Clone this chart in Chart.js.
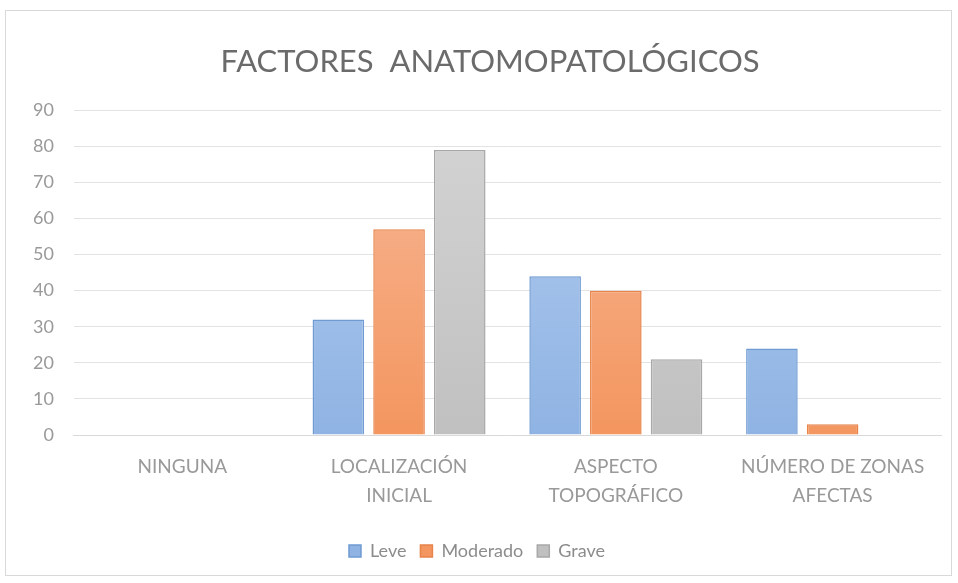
<head>
    <meta charset="utf-8">
    <title>Factores anatomopatológicos</title>
    <style>
        body { margin: 0; background: #fff; }
        #box {
            position: absolute; left: 5px; top: 10px; width: 945px; height: 564px;
            border: 1px solid #d9d9d9; background: #fff;
        }
    </style>
</head>

<body>

    <div id="box">
        <canvas id="myChart"></canvas>
    </div>

    <script src="https://cdn.jsdelivr.net/npm/chart.js"></script>

    <script>
        const categories = [
            ["NINGUNA"],
            ["LOCALIZACIÓN", "INICIAL"],
            ["ASPECTO", "TOPOGRÁFICO"],
            ["NÚMERO DE ZONAS", "AFECTAS"]
        ];
        const leve = [0, 32, 44, 24];
        const moderado = [0, 57, 40, 3];
        const grave = [0, 79, 21, 0];
        const yTicks = [0, 10, 20, 30, 40, 50, 60, 70, 80, 90];

        const font = "Lato, 'Open Sans', sans-serif";

        function grad(top, bottom) {
            return (c) => {
                const area = c.chart.chartArea;
                if (!area) return bottom;
                const g = c.chart.ctx.createLinearGradient(0, area.top, 0, area.bottom);
                g.addColorStop(0, top);
                g.addColorStop(1, bottom);
                return g;
            };
        }

        // the title in the original sits a bit right of the canvas centre
        const titleShift = {
            id: "titleShift",
            afterLayout(chart) {
                if (chart.titleBlock) chart.titleBlock.left += 26;
            }
        };

        const ctx = document.getElementById('myChart');
        ctx.width = 945;
        ctx.height = 564;

        new Chart(ctx, {
            type: "bar",
            data: {
                labels: categories,
                datasets: [
                    {
                        label: "Leve",
                        data: leve,
                        backgroundColor: grad("#b3cef0", "#8fb3e3"),
                        borderColor: "#6f9bd2",
                        borderWidth: 1.5
                    },
                    {
                        label: "Moderado",
                        data: moderado,
                        backgroundColor: grad("#f8b898", "#f3965f"),
                        borderColor: "#e8834a",
                        borderWidth: 1.5
                    },
                    {
                        label: "Grave",
                        data: grave,
                        backgroundColor: grad("#d4d4d4", "#c0c0c0"),
                        borderColor: "#a8a8a8",
                        borderWidth: 1.5
                    }
                ]
            },
            plugins: [titleShift],
            options: {
                responsive: false,
                animation: false,
                categoryPercentage: 0.84,
                barPercentage: 0.85,
                layout: { padding: { top: 32, left: 7, right: 10, bottom: 5 } },
                scales: {
                    x: {
                        grid: { display: false, drawTicks: false },
                        border: { color: "#d9d9d9" },
                        ticks: {
                            color: "#999999",
                            font: { family: font, size: 19, lineHeight: 1.5 },
                            padding: 18,
                            maxRotation: 0
                        }
                    },
                    y: {
                        min: 0,
                        max: 90,
                        afterBuildTicks: (axis) => { axis.ticks = yTicks.map(v => ({ value: v })); },
                        grid: { color: "#e3e3e3", drawTicks: false },
                        border: { display: false },
                        ticks: {
                            color: "#999999",
                            font: { family: font, size: 18 },
                            padding: 20
                        }
                    }
                },
                plugins: {
                    title: {
                        display: true,
                        text: "FACTORES  ANATOMOPATOLÓGICOS",
                        color: "#6b6b6b",
                        font: { family: font, size: 31, weight: "normal" },
                        padding: { top: 0, bottom: 30 }
                    },
                    legend: {
                        display: true,
                        position: "bottom",
                        labels: {
                            color: "#8c8c8c",
                            font: { family: font, size: 18 },
                            boxWidth: 12,
                            boxHeight: 12,
                            padding: 14
                        }
                    },
                    tooltip: { enabled: false }
                }
            }
        });
    </script>

</body>
